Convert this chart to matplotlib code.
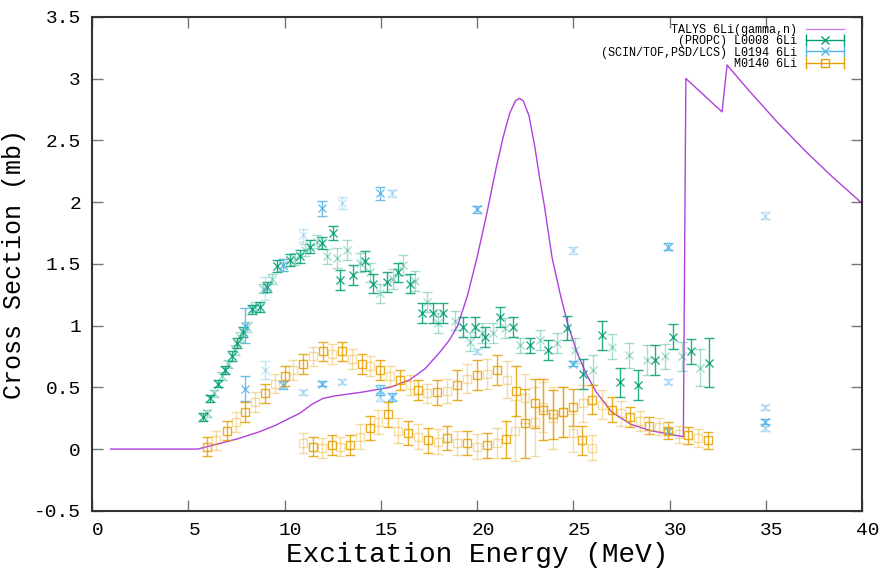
import matplotlib
matplotlib.use("Agg")
import matplotlib.pyplot as plt
from matplotlib.lines import Line2D
from matplotlib.legend_handler import HandlerLine2D
from matplotlib.transforms import ScaledTranslation

plt.rcParams['font.family'] = ['Liberation Mono', 'DejaVu Sans Mono']

PURPLE = '#9400d3'
GREEN = '#009e73'
BLUE = '#56b4e9'
ORANGE = '#e69f00'

# TALYS 6Li(gamma,n) evaluation
talys_e = [0.97, 5.5, 6.5, 7.5, 8.7, 9.5, 10.4, 10.8, 11.4, 12.0, 12.6, 14.0, 15.5,
           16.5, 17.3, 18.1, 18.6, 19.0, 19.5, 20.0, 20.5, 21.0, 21.35, 21.7, 22.0,
           22.2, 22.4, 22.7, 23.0, 23.25, 23.5, 23.9, 24.3, 24.7, 25.2, 25.7, 26.2,
           27.0, 28.0, 29.0, 30.0, 30.72, 30.85, 32.73, 32.99, 34.03, 35.58, 37.14,
           38.49, 40.0]
talys_xs = [0, 0, 0.04, 0.08, 0.14, 0.19, 0.26, 0.29, 0.36, 0.41, 0.43, 0.46, 0.5,
            0.56, 0.65, 0.79, 0.89, 1.0, 1.24, 1.55, 1.9, 2.28, 2.52, 2.72, 2.82,
            2.84, 2.82, 2.7, 2.45, 2.2, 1.97, 1.55, 1.27, 1.02, 0.78, 0.6, 0.46,
            0.3, 0.2, 0.15, 0.12, 0.1, 3.0, 2.73, 3.11, 2.92, 2.65, 2.40,
            2.20, 1.99]

# EXFOR L0008 (PROPC)
l0008_e = [5.78, 5.96, 6.13, 6.34, 6.56, 6.74, 6.91, 7.08, 7.26, 7.43, 7.52, 7.69,
           7.86, 8.04, 8.30, 8.47, 8.73, 8.90, 9.08, 9.34, 9.59, 9.94, 10.29, 10.55,
           10.81, 11.06, 11.32, 11.67, 11.93, 12.21, 12.52, 12.73, 12.88, 13.25,
           13.56, 13.92, 14.18, 14.44, 14.60, 14.96, 15.32, 15.64, 15.90, 16.16,
           16.52, 16.78, 17.14, 17.40, 17.71, 17.97, 18.23, 18.86, 19.27, 19.64,
           19.90, 20.26, 20.42, 20.83, 21.19, 21.45, 21.87, 22.23, 22.75, 23.27,
           23.69, 24.16, 24.68, 25.09, 25.51, 26.03, 26.49, 27.01, 27.43, 27.90,
           28.36, 28.83, 29.25, 29.77, 30.18, 30.65, 31.12, 31.58, 32.05]
l0008_xs = [0.26, 0.29, 0.41, 0.45, 0.53, 0.59, 0.64, 0.69, 0.75, 0.80, 0.86, 0.91,
            0.95, 0.99, 1.13, 1.15, 1.15, 1.30, 1.31, 1.38, 1.48, 1.49, 1.53, 1.54,
            1.56, 1.61, 1.64, 1.68, 1.67, 1.56, 1.75, 1.55, 1.37, 1.61,
            1.41, 1.51, 1.52, 1.43, 1.34, 1.26, 1.35, 1.38, 1.43, 1.49,
            1.34, 1.36, 1.10, 1.19, 1.10, 1.02, 1.10, 1.04, 0.99, 0.87,
            0.99, 0.94, 0.91, 0.94, 1.07, 0.98, 0.99, 0.84, 0.84, 0.88,
            0.80, 0.86, 0.98, 0.80, 0.61, 0.64, 0.92, 0.83, 0.54, 0.76,
            0.52, 0.72, 0.72, 0.75, 0.91, 0.75, 0.79, 0.66, 0.70]
l0008_err = [0.03, 0.03, 0.03, 0.03, 0.03, 0.03, 0.03, 0.03, 0.04, 0.04, 0.04, 0.04,
             0.04, 0.04, 0.04, 0.04, 0.04, 0.04, 0.04, 0.04, 0.05, 0.05, 0.05, 0.05,
             0.05, 0.05, 0.05, 0.05, 0.05, 0.06, 0.06, 0.08, 0.08, 0.08,
             0.08, 0.08, 0.08, 0.08, 0.08, 0.08, 0.08, 0.08, 0.08, 0.08,
             0.08, 0.08, 0.08, 0.08, 0.08, 0.08, 0.08, 0.08, 0.08, 0.08,
             0.08, 0.08, 0.08, 0.08, 0.08, 0.08, 0.08, 0.06, 0.06, 0.08,
             0.08, 0.08, 0.10, 0.10, 0.12, 0.12, 0.12, 0.10, 0.12, 0.10,
             0.12, 0.12, 0.12, 0.10, 0.10, 0.12, 0.10, 0.15, 0.20]

# EXFOR L0194 (SCIN/TOF,PSD/LCS)
l0194_e = [7.95, 8.99, 9.94, 10.98, 11.93, 12.97, 14.96, 15.57, 19.98, 25.0, 29.94, 34.96,
           7.95, 8.99, 9.94, 10.98, 11.93, 12.97, 14.96, 14.96, 15.57, 19.98, 25.0,
           29.94, 29.94, 34.96, 34.96, 34.96]
l0194_xs = [1.0, 1.30, 1.49, 1.73, 1.95, 1.99, 2.07, 2.07, 1.94, 1.61, 1.64, 1.89,
            0.49, 0.64, 0.52, 0.46, 0.53, 0.545, 0.48, 0.42, 0.42, 0.79, 0.69,
            0.545, 0.15, 0.34, 0.22, 0.17]
l0194_err = [0.14, 0.09, 0.05, 0.05, 0.06, 0.05, 0.05, 0.03, 0.03, 0.03, 0.03, 0.03,
             0.10, 0.07, 0.03, 0.02, 0.02, 0.02, 0.04, 0.03, 0.03, 0.02, 0.02,
             0.02, 0.02, 0.02, 0.02, 0.02]

# EXFOR M0140
m0140_e = [5.96, 6.44, 6.99, 7.50, 7.95, 8.47, 8.99, 9.51, 10.03, 10.46, 10.98, 11.50,
           12.01, 12.45, 12.97, 13.49, 14.00, 14.44, 14.96, 15.48, 16.00, 16.52,
           16.95, 17.38, 17.90, 18.43, 18.95, 19.46, 19.98, 20.50, 21.02, 21.54,
           22.03, 22.49, 23.01, 23.44, 23.96, 24.48, 25.00, 25.52, 25.99, 26.48,
           27.00, 27.46, 27.95, 28.47, 28.95, 29.47, 29.94, 30.49, 30.98, 31.50, 32.02,
           10.98, 11.50, 11.93, 12.45, 12.88, 13.40, 13.92, 14.44, 14.87, 15.39,
           15.91, 16.43, 16.95, 17.47, 17.99, 18.43, 18.95, 19.46, 19.98, 20.50,
           21.02, 21.50, 21.97, 22.49, 23.01, 23.44, 23.96, 24.48, 25.00, 25.44, 25.96]
m0140_xs = [0.02, 0.07, 0.15, 0.22, 0.30, 0.38, 0.45, 0.53, 0.59, 0.64, 0.69, 0.75,
            0.79, 0.77, 0.79, 0.73, 0.69, 0.67, 0.64, 0.59, 0.56, 0.52,
            0.48, 0.45, 0.46, 0.47, 0.52, 0.57, 0.60, 0.61, 0.64, 0.56,
            0.47, 0.41, 0.37, 0.34, 0.28, 0.30, 0.34, 0.37, 0.40, 0.36,
            0.32, 0.29, 0.26, 0.23, 0.19, 0.18, 0.15, 0.12, 0.11, 0.09, 0.07,
            0.05, 0.02, 0.01, 0.03, 0.02, 0.03, 0.10, 0.17, 0.22, 0.28,
            0.15, 0.13, 0.10, 0.07, 0.06, 0.09, 0.05, 0.05, 0.02, 0.03,
            0.05, 0.08, 0.15, 0.21, 0.22, 0.32, 0.25, 0.30, 0.13, 0.07, 0.01]
m0140_err = [0.08, 0.08, 0.08, 0.08, 0.08, 0.08, 0.08, 0.08, 0.08, 0.08, 0.08, 0.08,
             0.08, 0.08, 0.08, 0.08, 0.08, 0.08, 0.08, 0.08, 0.08, 0.08,
             0.08, 0.08, 0.10, 0.10, 0.12, 0.12, 0.12, 0.12, 0.12, 0.15,
             0.20, 0.20, 0.20, 0.20, 0.20, 0.20, 0.15, 0.15, 0.12, 0.12,
             0.10, 0.10, 0.08, 0.08, 0.07, 0.07, 0.07, 0.07, 0.07, 0.07, 0.07,
             0.08, 0.08, 0.08, 0.08, 0.08, 0.08, 0.10, 0.10, 0.10, 0.10,
             0.10, 0.10, 0.10, 0.10, 0.10, 0.10, 0.10, 0.10, 0.10, 0.10,
             0.12, 0.15, 0.25, 0.28, 0.28, 0.25, 0.25, 0.20, 0.15, 0.12, 0.10]

legend_labels = ['TALYS 6Li(gamma,n)', '(PROPC) L0008 6Li',
                 '(SCIN/TOF,PSD/LCS) L0194 6Li', 'M0140 6Li']

fig = plt.figure(figsize=(8.83, 5.71), dpi=100)
ax = fig.add_axes([92 / 883, 1 - 510.8 / 571, 770 / 883, 494 / 571])

ax.plot(talys_e, talys_xs, color=PURPLE, lw=1, alpha=0.75, zorder=2)


def draw_points(e, xs, err, color, marker, z):
    # alternate strong and faint points, like overlapping entries
    for start, alpha in ((0, 0.85), (1, 0.35)):
        ax.errorbar(e[start::2], xs[start::2], yerr=err[start::2], fmt=marker,
                    color=color, mfc='none', ms=6, mew=1, elinewidth=1,
                    capsize=3.5, capthick=1, alpha=alpha, zorder=z)


draw_points(l0008_e, l0008_xs, l0008_err, GREEN, 'x', 3)
draw_points(l0194_e, l0194_xs, l0194_err, BLUE, 'x', 4)
draw_points(m0140_e, m0140_xs, m0140_err, ORANGE, 's', 5)

ax.set_xlim(0, 40)
ax.set_ylim(-0.5, 3.5)
ax.set_xticks(range(0, 41, 5))
ax.set_yticks([-0.5, 0, 0.5, 1, 1.5, 2, 2.5, 3, 3.5])
ax.set_yticklabels(['-0.5', '0', '0.5', '1', '1.5', '2', '2.5', '3', '3.5'])
ax.tick_params(direction='in', top=True, right=True, length=8, width=1,
               color='#777777', labelsize=14, pad=8)
for lbl in ax.get_xticklabels():
    lbl.set_transform(lbl.get_transform() + ScaledTranslation(6 / 100, 0, fig.dpi_scale_trans))
for sp in ax.spines.values():
    sp.set_linewidth(1.5)
    sp.set_color('#333333')

ax.set_xlabel('Excitation Energy (MeV)', fontsize=20, labelpad=2)
ax.set_ylabel('Cross Section (mb)', fontsize=18, labelpad=6)


# key entries: horizontal bar with end caps and the symbol in the middle
def key_entry(color, marker):
    bar = Line2D([], [], color=color, lw=1, marker='|', ms=8, mew=1)
    sym = Line2D([], [], color=color, ls='none', marker=marker, mfc='none', ms=6, mew=1)
    return (bar, sym)


handles = [Line2D([], [], color=PURPLE, lw=1, alpha=0.5)]
hmap = {}
for color, marker in ((GREEN, 'x'), (BLUE, 'x'), (ORANGE, 's')):
    bar, sym = key_entry(color, marker)
    hmap[bar] = HandlerLine2D(numpoints=2, marker_pad=0)
    hmap[sym] = HandlerLine2D(numpoints=1)
    handles.append((bar, sym))

ax.legend(handles, legend_labels, handler_map=hmap, loc='upper right',
          bbox_to_anchor=(1 - 18 / 770, 1 - 7 / 494), borderaxespad=0, borderpad=0,
          frameon=False, markerfirst=False, fontsize=8.5, handlelength=3.2,
          handletextpad=0.8, labelspacing=-0.05)

fig.savefig('out.png', dpi=100)
